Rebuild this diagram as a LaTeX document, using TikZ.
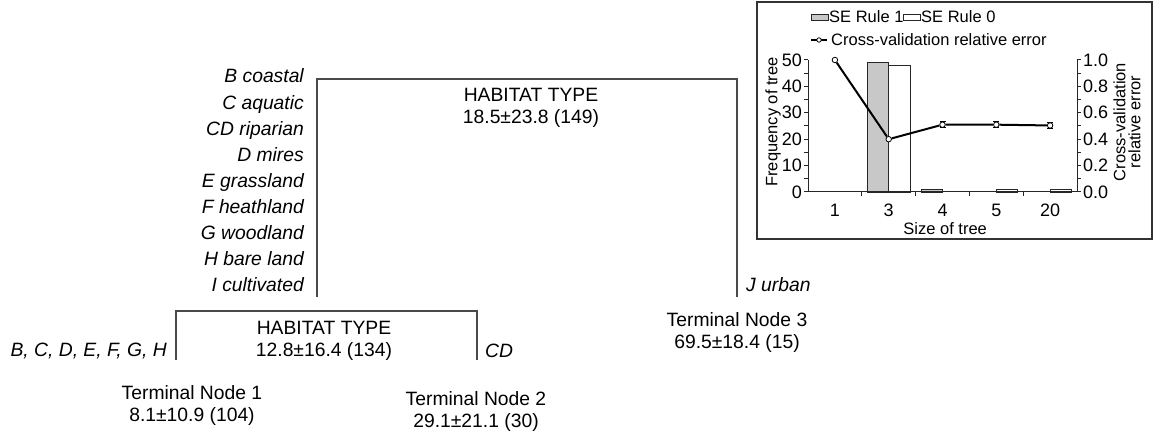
\documentclass[tikz,border=0pt]{standalone}
\usepackage{fontspec}
\setmainfont{Liberation Sans}
\usetikzlibrary{positioning}
\definecolor{treegray}{HTML}{4A4A4A}
\definecolor{barfill}{HTML}{C8C8C8}

\begin{document}
\begin{tikzpicture}[
    x=1pt,
    y=-1pt,
    font=\fontsize{19.3}{22}\selectfont,
    split/.style={align=center, inner sep=0pt},
    leaf/.style={align=center, inner sep=0pt},
    catlabel/.style={font=\fontsize{19.3}{22}\selectfont\itshape, inner sep=0pt},
    branch/.style={draw=treegray, line width=1.3pt},
    small/.style={font=\fontsize{16.5}{15}\selectfont, inner sep=0pt},
    ticklabel/.style={font=\fontsize{18}{18}\selectfont, inner sep=0pt},
    axisline/.style={draw=black!85, line width=1pt},
    rulebar/.style={draw=black!85, line width=0.9pt, fill=barfill},
    zerobar/.style={draw=black!85, line width=0.9pt, fill=white},
    cvline/.style={draw=black, line width=2pt},
    cvmark/.style={circle, draw=black, line width=0.8pt, fill=white, inner sep=0pt, minimum size=5.5pt}
  ]
    \useasboundingbox (0,0) rectangle (1153,435);

    % first split
    \node[split] (split1) at (531,108) {HABITAT TYPE\\18.5±23.8 (149)};
    \coordinate (s1top) at (527,79);
    \coordinate (s1l) at (317,297);
    \coordinate (s1r) at (737,297);
    \draw[branch] (s1l) |- (s1top) -| (s1r);
    \foreach \lab [count=\i from 0] in {B coastal, C aquatic, CD riparian, D mires, E grassland, F heathland, G woodland, H bare land, I cultivated}
      \node[catlabel, anchor=base east] (cat\i) at (304, 83+26.1*\i) {\lab};
    \node[catlabel, anchor=west] (urban) at (746,285) {J urban};

    % second split
    \node[split] (split2) at (324,341) {HABITAT TYPE\\12.8±16.4 (134)};
    \coordinate (s2top) at (326,311);
    \coordinate (s2l) at (176,360);
    \coordinate (s2r) at (477,360);
    \draw[branch] (s2l) |- (s2top) -| (s2r);
    \node[catlabel, anchor=east] (left2) at (167,351) {B, C, D, E, F, G, H};
    \node[catlabel, anchor=west] (right2) at (485,351) {CD};

    % terminal nodes
    \node[leaf] (term1) at (192,406) {Terminal Node 1\\8.1±10.9 (104)};
    \node[leaf] (term2) at (476,412) {Terminal Node 2\\29.1±21.1 (30)};
    \node[leaf] (term3) at (737,333) {Terminal Node 3\\69.5±18.4 (15)};

    % inset: tree size
    \draw[line width=1.2pt, black!80] (757,2) rectangle (1152,239);
    \draw[rulebar] (811,14) rectangle (828,20);
    \node[small, anchor=west] (leg1) at (829,17) {SE Rule 1};
    \draw[zerobar] (903,14) rectangle (920,20);
    \node[small, anchor=west] (leg0) at (921,17) {SE Rule 0};
    \coordinate (legl) at (811,40);
    \coordinate (legr) at (827,40);
    \draw[draw=black, line width=1.2pt] (legl) -- (legr);
    \node[cvmark, minimum size=4.5pt] (legmark) at (819,40) {};
    \node[small, anchor=west] (leg2) at (831,40) {Cross-validation relative error};
    \node[small, rotate=90] (ytitle) at (773,122) {Frequency of tree};
    \node[small, rotate=90, align=center] (etitle) at (1127,122) {Cross-validation\\relative error};

    \begin{scope}[shift={(808,192)}, x=53.8pt, y=2.64pt]
      \draw[rulebar] (1.1,0) rectangle (1.5,49);
      \draw[zerobar] (1.5,0) rectangle (1.9,48);
      \draw[rulebar] (2.1,0) rectangle (2.5,1);
      \draw[zerobar] (3.5,0) rectangle (3.9,1);
      \draw[zerobar] (4.5,0) rectangle (4.9,1);

      \draw[axisline] (0,50) -- (0,0) -- (5,0) -- (5,50);
      \foreach \f in {0,5,...,50}
        \draw[axisline] (0,\f) -- ++(-4pt,0);
      \foreach \f in {0,10,...,50}
        \node[ticklabel, anchor=east] (fl\f) at ([xshift=-6pt]0,\f) {\f};
      \foreach \e in {0,...,10}
        \draw[axisline] (5,\e*5) -- ++(4pt,0);
      \foreach \e/\t in {0/0.0,10/0.2,20/0.4,30/0.6,40/0.8,50/1.0}
        \node[ticklabel, anchor=west] (el\e) at ([xshift=6pt]5,\e) {\t};
      \foreach \k in {1,...,4}
        \draw[axisline] (\k,0) -- ++(0,-4pt);
      \foreach \k/\t in {0.5/1,1.5/3,2.5/4,3.5/5,4.5/20}
        \node[ticklabel] (xl\t) at (\k,-7) {\t};
      \node[small] (xtitle) at (2.55,-13.8) {Size of tree};

      % cross-validation error
      \foreach \k/\v in {2.5/25.5,3.5/25.5,4.5/25.2}
        \draw[draw=black, line width=1pt] (\k,\v) ++(-3pt,3pt) -- ++(6pt,0) (\k,\v) ++(-3pt,-3pt) -- ++(6pt,0) (\k,\v) ++(0,3pt) -- ++(0,-6pt);
      \node[cvmark] (e1) at (0.5,50) {};
      \node[cvmark] (e3) at (1.5,20) {};
      \node[cvmark] (e4) at (2.5,25.5) {};
      \node[cvmark] (e5) at (3.5,25.5) {};
      \node[cvmark] (e20) at (4.5,25.2) {};
      \draw[cvline] (e1) -- (e3) -- (e4) -- (e5) -- (e20);
    \end{scope}
  \end{tikzpicture}
\end{document}
